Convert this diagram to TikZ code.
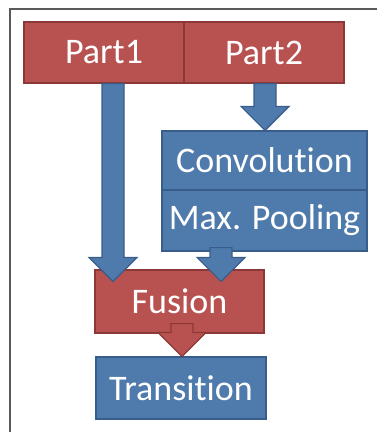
\documentclass[tikz,border=0pt]{standalone}
\usepackage{fontspec}
\setmainfont{Carlito}[Ligatures={NoCommon}]
\usetikzlibrary{calc}
\usetikzlibrary{positioning}
\definecolor{boxred}{RGB}{184,82,80}
\definecolor{edgered}{RGB}{140,56,54}
\definecolor{boxblue}{RGB}{79,122,172}
\definecolor{edgeblue}{RGB}{56,93,138}
\tikzstyle{redbox} = [rectangle, fill=boxred, draw=edgered, line width=0.9pt, text=white, inner sep=0pt, font=\fontsize{27}{32}\selectfont]
\tikzstyle{bluebox} = [rectangle, fill=boxblue, draw=edgeblue, line width=0.9pt, text=white, inner sep=0pt, font=\fontsize{27}{32}\selectfont]
\tikzstyle{redarrow} = [fill=boxred, draw=edgered, line width=0.9pt, line join=miter]
\tikzstyle{bluearrow} = [fill=boxblue, draw=edgeblue, line width=0.9pt, line join=miter]
% fat block arrow from #2 straight down to the tip #3
\newcommand{\blockarrow}[3]{%
	\draw[#1] let \p1=(#2), \p2=(#3) in (\x1-8.25pt,\y1) -- (\x1+8.25pt,\y1) -- (\x1+8.25pt,\y2+18pt) -- (\x1+18pt,\y2+18pt) -- (\x2,\y2) -- (\x1-18pt,\y2+18pt) -- (\x1-8.25pt,\y2+18pt) -- cycle;}

\begin{document}
\begin{tikzpicture}[x=0.75pt, y=-0.75pt]
						\useasboundingbox (0, 0) rectangle (377, 432);
						\draw [line width=1.2pt, black!65] (10, 432) -- (10, 9) -- (377, 9);
						% boxes
						\node [redbox, minimum width=120pt, minimum height=45.75pt] (part1) at (104, 52.5) {Part1};
						\node [redbox, minimum width=120pt, minimum height=45.75pt] (part2) at (264, 52.5) {Part2};
						\node [bluebox, minimum width=153.75pt, minimum height=44.25pt] (conv) at (264.5, 160.5) {Convolution};
						\node [bluebox, minimum width=153.75pt, minimum height=45.75pt] (pool) at (264.5, 220.5) {Max. Pooling};
						\node [redbox, minimum width=126.75pt, minimum height=47.25pt] (fusion) at (179.5, 301.5) {Fusion};
						\node [bluebox, minimum width=127.5pt, minimum height=46.5pt] (trans) at (181, 388) {Transition};
						% arrow ends
						\coordinate (s1) at ($(part1.south)+(9, 0)$);
						\coordinate (t1) at ($(s1 |- fusion.north)+(0, 12)$);
						\coordinate (s2) at ($(part2.south)+(1, 0)$);
						\coordinate (t2) at (s2 |- conv.north);
						\coordinate (s3) at ($(pool.south)+(-43.5, -4)$);
						\coordinate (t3) at ($(s3 |- fusion.north)+(0, 12)$);
						\coordinate (s4) at ($(fusion.south)+(2.5, -10)$);
						\coordinate (t4) at (s4 |- trans.north);
						\blockarrow{bluearrow}{s1}{t1}
						\blockarrow{bluearrow}{s2}{t2}
						\blockarrow{bluearrow}{s3}{t3}
						\blockarrow{redarrow}{s4}{t4}
					\end{tikzpicture}
\end{document}
